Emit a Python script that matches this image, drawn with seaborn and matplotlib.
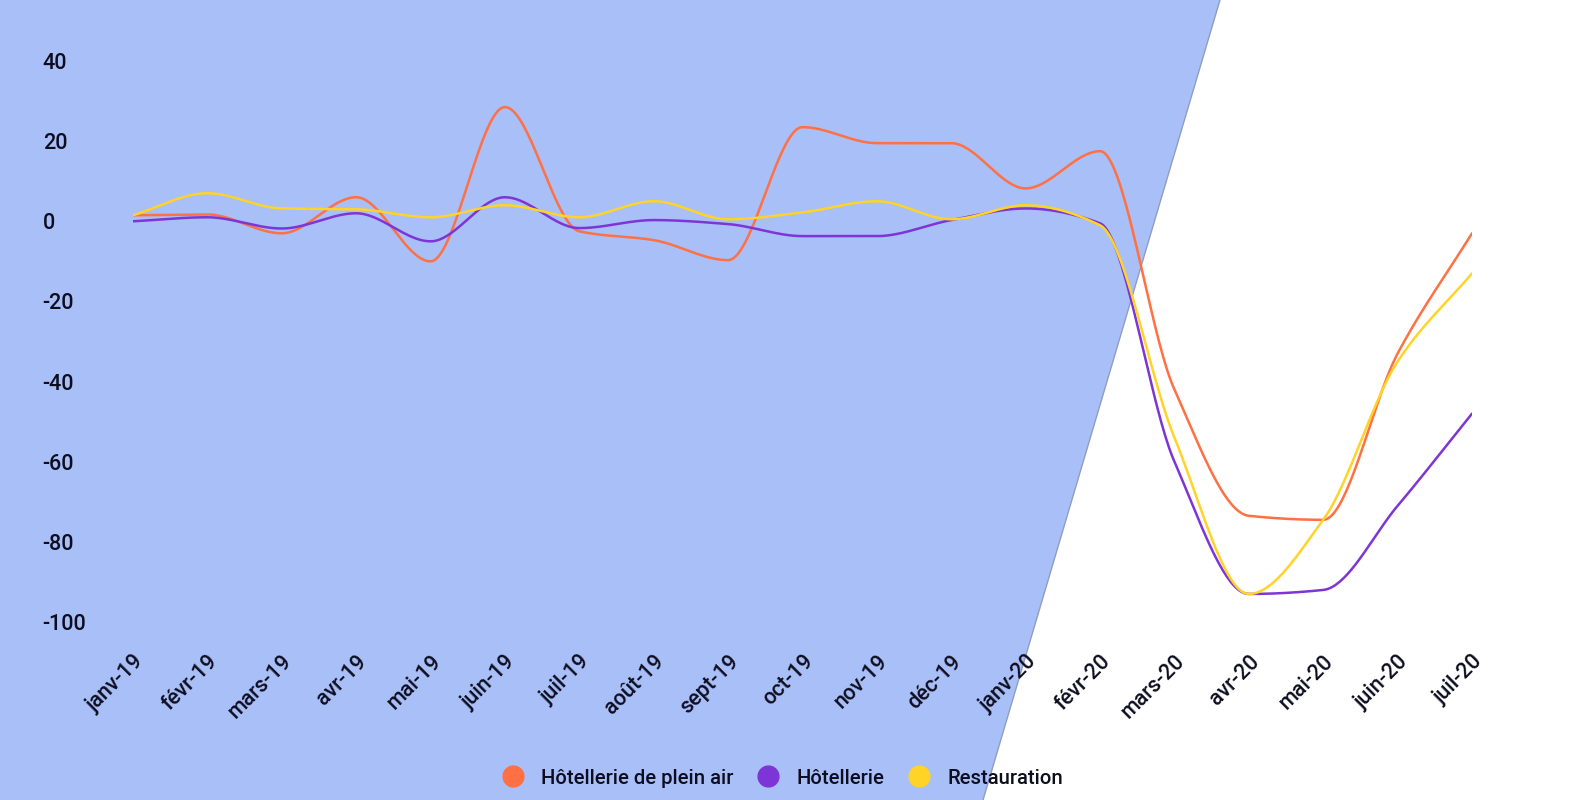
import numpy as np
import pandas as pd
import seaborn as sns
import matplotlib.pyplot as plt
from matplotlib.patches import Polygon
from matplotlib.lines import Line2D

months = ["janv-19", "févr-19", "mars-19", "avr-19", "mai-19", "juin-19", "juil-19",
          "août-19", "sept-19", "oct-19", "nov-19", "déc-19", "janv-20", "févr-20",
          "mars-20", "avr-20", "mai-20", "juin-20", "juil-20"]
plein_air = [1.5, 1.7, -3, 6, -10, 28.5, -2.5, -4.7, -9.7, 23.5, 19.5, 19.5, 8.2, 17.5,
             -42, -73.5, -74.5, -33, -3]
hotellerie = [0, 1, -1.8, 2, -5, 6, -1.7, 0.3, -0.7, -3.7, -3.7, 0.3, 3.2, -0.5,
              -60, -93, -92, -71, -48]
restauration = [1.5, 7, 3.2, 3, 1, 4, 1, 5, 0.5, 2.2, 5, 0.5, 4, -1,
                -54, -93, -74.5, -35, -13]

series = {"Hôtellerie de plein air": plein_air,
          "Hôtellerie": hotellerie,
          "Restauration": restauration}
colors = {"Hôtellerie de plein air": "#FF7043",
          "Hôtellerie": "#7E35D6",
          "Restauration": "#FFD426"}


def monotone_curve(y, n=40):
    # monotone cubic (Fritsch-Carlson) to draw the smooth line like the original
    y = np.asarray(y, float)
    x = np.arange(len(y), dtype=float)
    d = np.diff(y)
    m = np.zeros_like(y)
    m[0], m[-1] = d[0], d[-1]
    for i in range(1, len(y) - 1):
        if d[i - 1] * d[i] <= 0:
            m[i] = 0
        else:
            m[i] = 2 / (1 / d[i - 1] + 1 / d[i])
    xs, ys = [], []
    for i in range(len(y) - 1):
        t = np.linspace(0, 1, n, endpoint=False)
        h00 = 2 * t**3 - 3 * t**2 + 1
        h10 = t**3 - 2 * t**2 + t
        h01 = -2 * t**3 + 3 * t**2
        h11 = t**3 - t**2
        xs.append(x[i] + t)
        ys.append(h00 * y[i] + h10 * m[i] + h01 * y[i + 1] + h11 * m[i + 1])
    xs.append([x[-1]])
    ys.append([y[-1]])
    return np.concatenate(xs), np.concatenate(ys)


rows = []
for name, vals in series.items():
    xs, ys = monotone_curve(vals)
    rows.append(pd.DataFrame({"x": xs, "y": ys, "série": name}))
df = pd.concat(rows, ignore_index=True)

sns.set_style("white")
plt.rcParams["font.family"] = ["Roboto", "DejaVu Sans"]
plt.rcParams["font.weight"] = "medium"
plt.rcParams["axes.unicode_minus"] = False

W, H = 1574, 800
fig = plt.figure(figsize=(W / 100, H / 100), dpi=100)
# blue background band, behind everything
bg = fig.add_axes([0, 0, 1, 1], zorder=-1)
bg.set_xlim(0, W)
bg.set_ylim(H, 0)
bg.axis("off")
bg.add_patch(Polygon([(0, 0), (1220, 0), (983, H), (0, H)], closed=True,
                     facecolor="#A9BFF8", edgecolor="none"))
bg.plot([1220, 983], [0, H], color="#8F9DBF", lw=1)

ax = fig.add_axes([133 / W, 1 - 622 / H, 1339 / W, 561 / H], zorder=1)
ax.set_facecolor("none")
sns.lineplot(data=df, x="x", y="y", hue="série", palette=colors, sort=False,
             estimator=None, linewidth=1.8, legend=False, ax=ax)

ax.set_xlim(0, len(months) - 1)
ax.set_ylim(-100, 40)
ax.set_yticks(range(-100, 41, 20))
ax.set_xticks(range(len(months)))
ax.set_xticklabels(months, rotation=45, ha="right", va="top", rotation_mode="anchor")
ax.set_xlabel("")
ax.set_ylabel("")
for s in ax.spines.values():
    s.set_visible(False)
ax.tick_params(axis="y", length=0, pad=65, labelsize=15.5, labelcolor="#0d0d1f")
ax.tick_params(axis="x", length=0, pad=21, labelsize=15.5, labelcolor="#0d0d1f")
for lab in ax.get_yticklabels():
    lab.set_horizontalalignment("left")

handles = [Line2D([], [], marker="o", linestyle="none", markersize=15,
                  markerfacecolor=c, markeredgecolor=c) for c in colors.values()]
fig.legend(handles, list(colors.keys()), loc="center", ncol=3, frameon=False,
           bbox_to_anchor=(778 / W, 1 - 778 / H), fontsize=14.6, handletextpad=0.4,
           columnspacing=0.7, labelcolor="#0d0d1f")

fig.savefig("out.png", dpi=100)
